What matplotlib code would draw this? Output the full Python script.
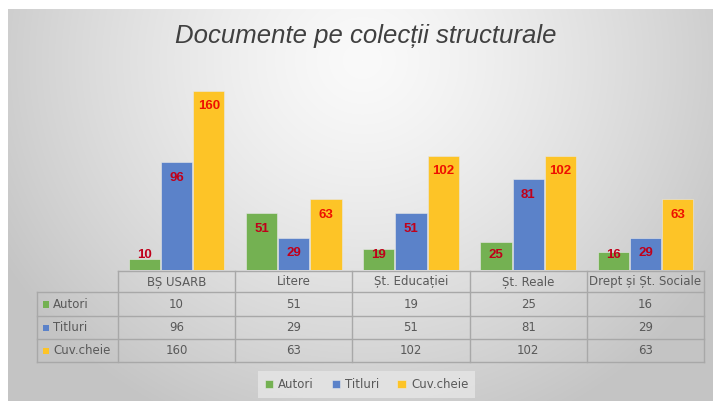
import numpy as np
import matplotlib
matplotlib.use('Agg')
import matplotlib.pyplot as plt
from matplotlib.patches import Rectangle

categories = ['BȘ USARB', 'Litere', 'Șt. Educației', 'Șt. Reale', 'Drept și Șt. Sociale']
series = ['Autori', 'Titluri', 'Cuv.cheie']
autori = [10, 51, 19, 25, 16]
titluri = [96, 29, 51, 81, 29]
cuv_cheie = [160, 63, 102, 102, 63]
title = 'Documente pe colecții structurale'

colors = ['#74B152', '#5B82C9', '#FDC427']
label_colors = ['#C0001A', '#C0001A', '#EE1000']
text_col = '#595959'
grid_col = '#A8A8A8'

W, H = 713, 401
fig = plt.figure(figsize=(W / 100, H / 100), dpi=100)
fig.patch.set_facecolor('white')

# background radial gradient (gray frame)
bg = fig.add_axes([8 / W, 0, (W - 8) / W, (H - 9) / H], zorder=0)
yy, xx = np.mgrid[9:H, 8:W]
r = np.sqrt(((xx - 362) / 420.0) ** 2 + ((yy - 60) / 400.0) ** 2)
g = 250 - 54 * np.clip(r, 0, 1) ** 1.3
rgb = np.dstack([g, g, g]) / 255.0
bg.imshow(rgb, aspect='auto', interpolation='bilinear')
bg.axis('off')


def px(x0, y0, x1, y1):
    # pixel box -> figure fraction [left, bottom, width, height]
    return [x0 / W, (H - y1) / H, (x1 - x0) / W, (y1 - y0) / H]


# bars
base, scale, ymax = 270, 1.12, 180
ax = fig.add_axes(px(118, base - ymax * scale, 704, base), zorder=2)
ax.set_facecolor('none')
x = np.arange(len(categories))
pitch, width = 0.274, 0.266
data = [autori, titluri, cuv_cheie]
for i, (name, vals) in enumerate(zip(series, data)):
    pos = x + (i - 1) * pitch
    ax.bar(pos, vals, width=width, color=colors[i], label=name,
           edgecolor='#E8E8E8', linewidth=0.4)
    for xp, v in zip(pos, vals):
        ax.text(xp, max(v - 14, 13), str(v), ha='center', va='center',
                fontsize=9.5, fontweight='bold', color=label_colors[i],
                family='Liberation Sans')
ax.set_xlim(-0.5, len(categories) - 0.5)
ax.set_ylim(0, ymax)
ax.axis('off')

# title
fig.text(366 / W, 1 - 36 / H, title, ha='center', va='center', fontsize=18.5,
         style='italic', color='#404040', family='Liberation Sans')

# data table
tb = fig.add_axes([0, 0, 1, 1], zorder=3)
tb.set_xlim(0, W)
tb.set_ylim(H, 0)
tb.axis('off')
col_edges = np.linspace(118, 704, len(categories) + 1)
row_edges = [271, 292, 316, 339, 362]
lab_left = 37

tb.plot([col_edges[0], col_edges[-1]], [row_edges[0]] * 2, color=grid_col, lw=1)
for yv in row_edges[1:]:
    tb.plot([lab_left, col_edges[-1]], [yv, yv], color=grid_col, lw=1)
for xv in col_edges:
    tb.plot([xv, xv], [row_edges[0], row_edges[-1]], color=grid_col, lw=1)
tb.plot([lab_left, lab_left], [row_edges[1], row_edges[-1]], color=grid_col, lw=1)

for j, cat in enumerate(categories):
    cx = (col_edges[j] + col_edges[j + 1]) / 2
    tb.text(cx, (row_edges[0] + row_edges[1]) / 2, cat, ha='center', va='center',
            fontsize=8.5, color=text_col)
for i, (name, vals) in enumerate(zip(series, data)):
    cy = (row_edges[i + 1] + row_edges[i + 2]) / 2
    tb.add_patch(Rectangle((42.5, cy - 3), 6.5, 6.5, color=colors[i], lw=0))
    tb.text(53, cy, name, ha='left', va='center', fontsize=8.5, color=text_col)
    for j, v in enumerate(vals):
        cx = (col_edges[j] + col_edges[j + 1]) / 2
        tb.text(cx, cy, str(v), ha='center', va='center', fontsize=8.5, color=text_col)

# legend
handles, labels = ax.get_legend_handles_labels()
leg = fig.legend(handles, labels, loc='center', bbox_to_anchor=(366.5 / W, 1 - 384.5 / H),
                 ncol=3, frameon=True, fontsize=8.5, handlelength=0.7, handleheight=0.7,
                 handletextpad=0.45, columnspacing=1.5, borderpad=0.6, borderaxespad=0,
                 fancybox=False)
leg.get_frame().set_facecolor('#E6E6E6')
leg.get_frame().set_edgecolor('none')
leg.get_frame().set_alpha(0.8)
for t in leg.get_texts():
    t.set_color(text_col)

fig.savefig('out.png', dpi=100)
